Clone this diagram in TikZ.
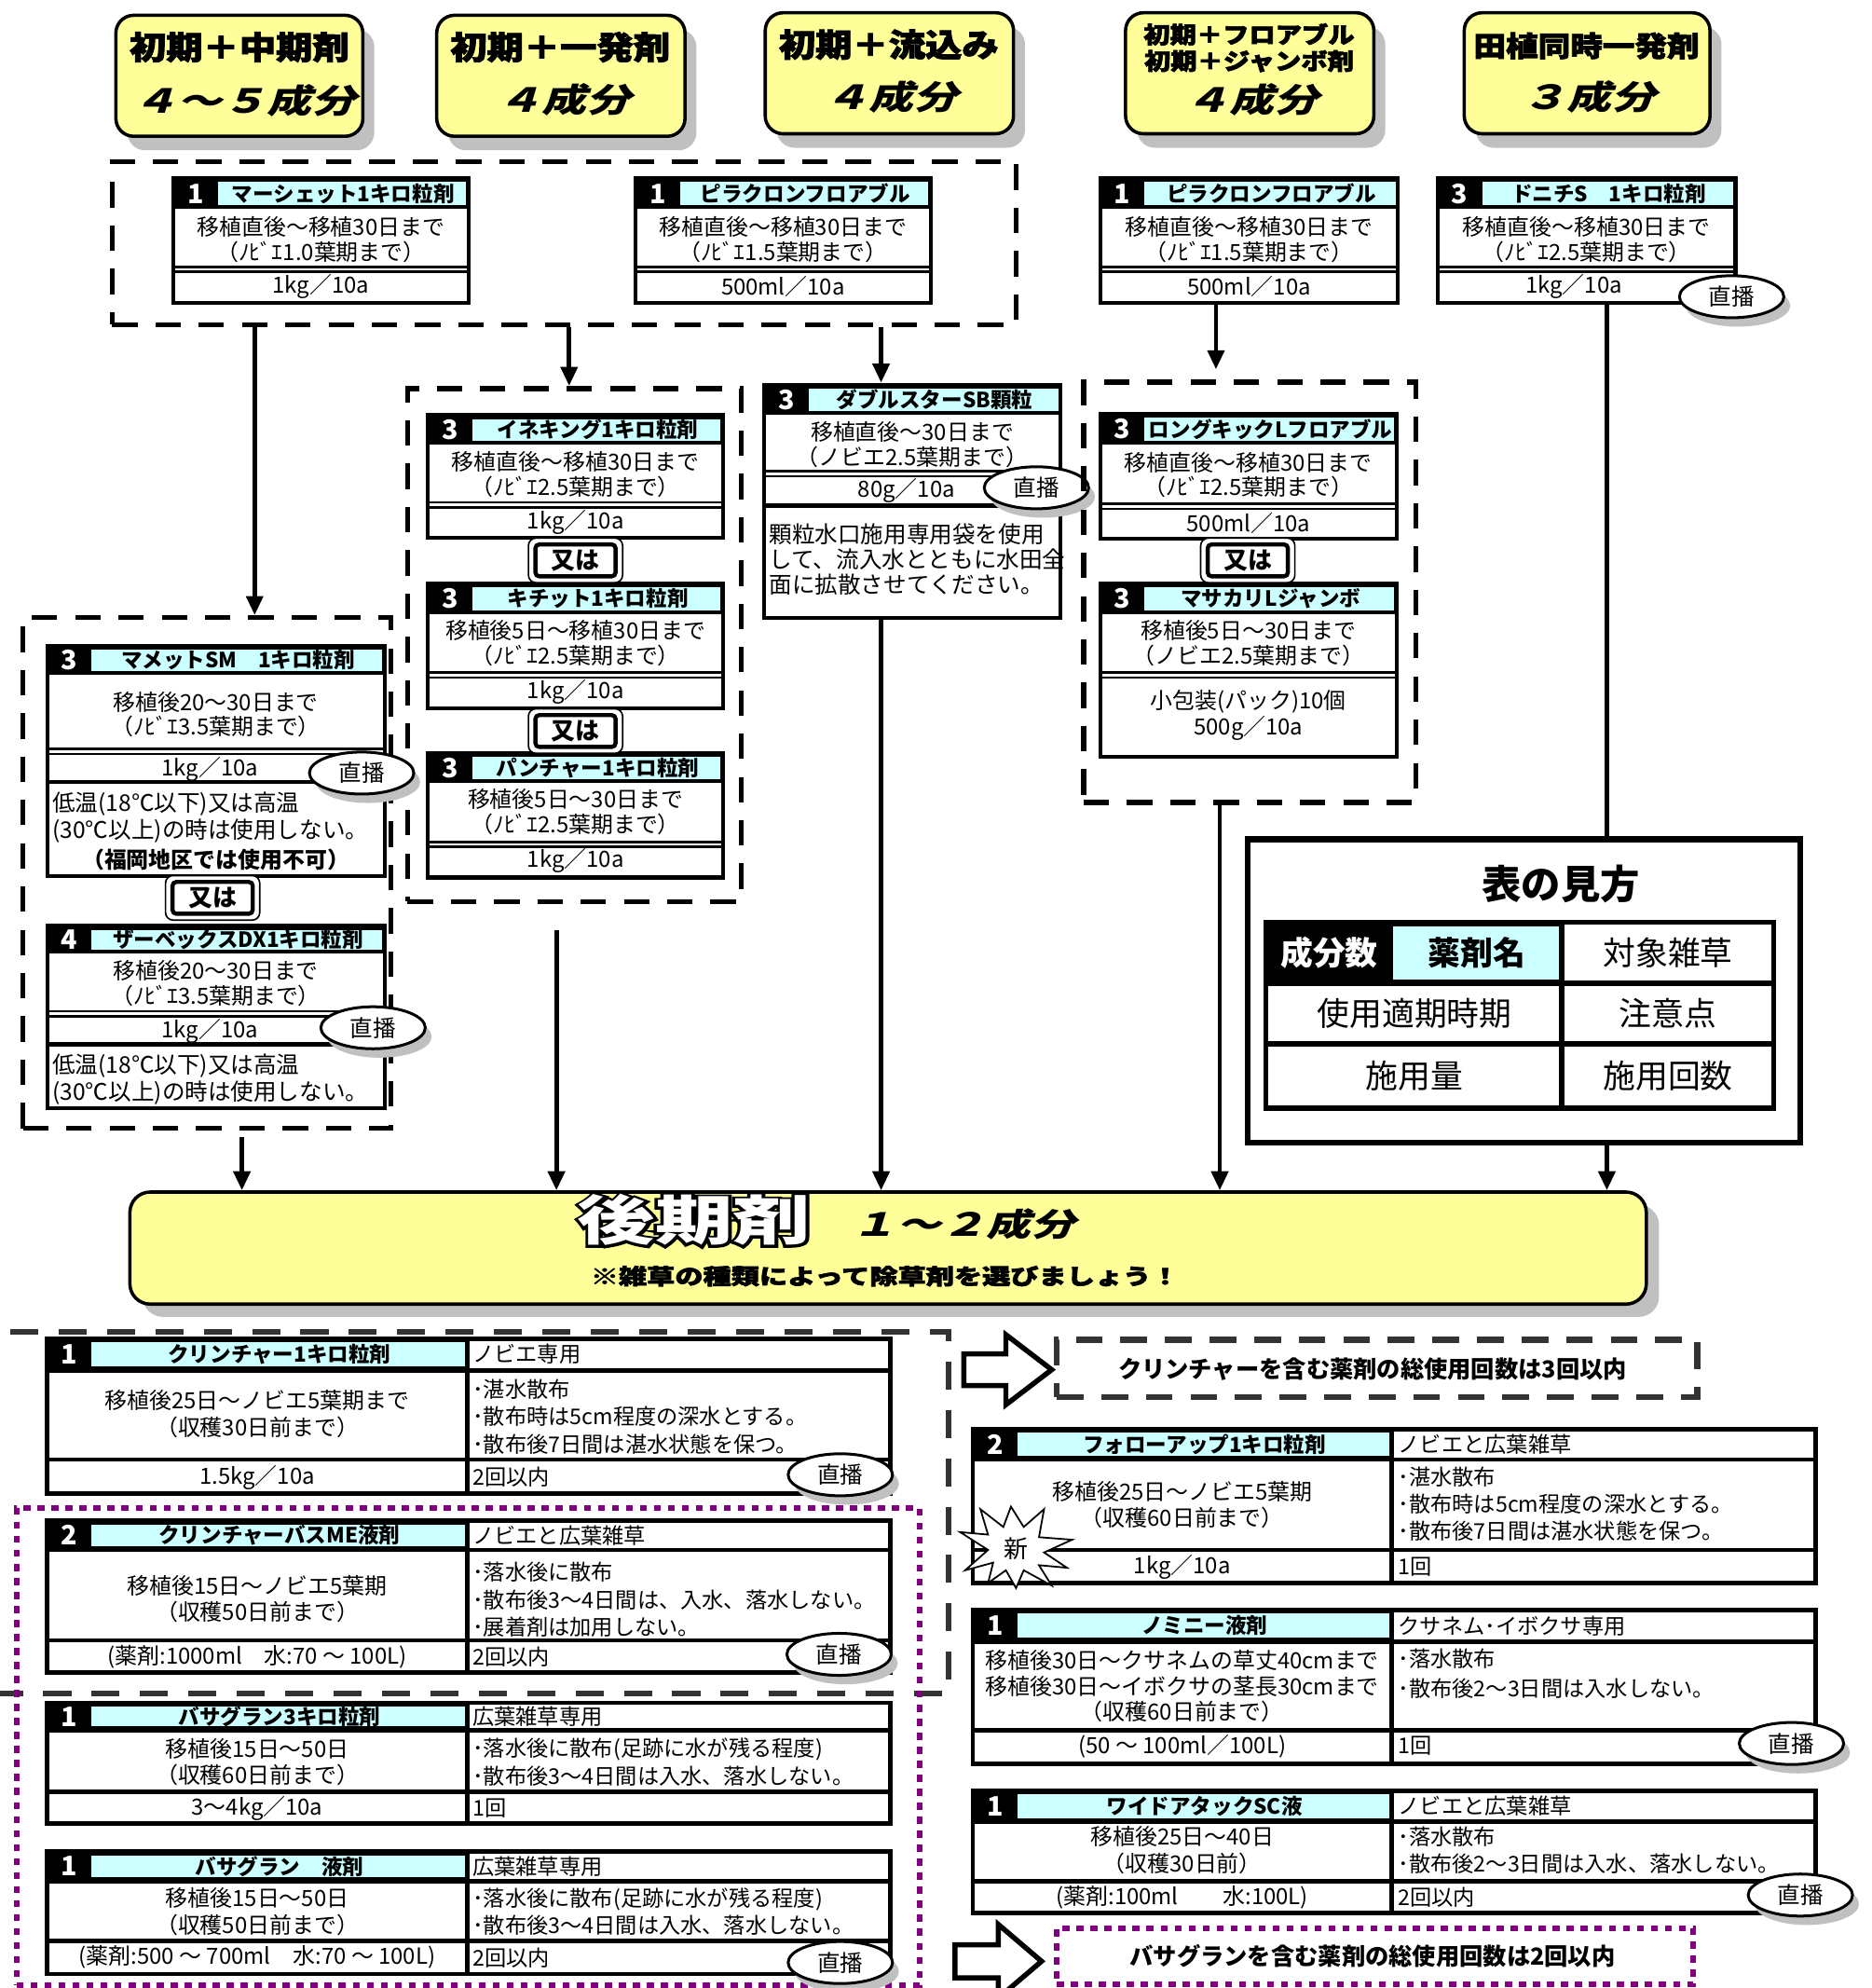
\documentclass[tikz,border=0pt]{standalone}
\usepackage{fontspec}
\setmainfont{Noto Sans CJK JP}
\newfontfamily\jpslant[FakeSlant=0.22]{Noto Sans CJK JP}
\newfontfamily\jpheavy[FakeBold=2.5]{Noto Sans CJK JP}
\newfontfamily\jpstroke[FakeBold=9]{Noto Sans CJK JP}
\usepackage{graphicx}
\usetikzlibrary{arrows.meta,calc,fit,shapes.geometric}
\definecolor{ylw}{HTML}{FFFF99}
\definecolor{cyn}{HTML}{CCFFFF}
\definecolor{shd}{HTML}{C0C0C0}
\definecolor{prp}{HTML}{800080}
\definecolor{dgr}{HTML}{333333}
\newcommand{\fsz}[1]{\fontsize{#1}{#1}\selectfont}
% yellow rounded box with shadow
\newcommand{\ybox}[5]{%
  \fill[shd,rounded corners=14pt] ({#2+9},{#3+11}) rectangle ({#4+9},{#5+11});
  \node[fit={(#2,#3) (#4,#5)},inner sep=0pt,draw,line width=2.6pt,fill=ylw,rounded corners=14pt] (#1) {};}
% heavy black title text: name,x,y,size,hscale,text
\newcommand{\htxt}[6]{\node[inner sep=0pt,font=\jpheavy\bfseries\fsz{#4}] (#1) at (#2,#3) {\scalebox{#5}[1]{#6}};}
% narrow card: name,x1,y1,x2,y2,header bottom,num,title
\newcommand{\ncard}[8]{%
  \fill[white] (#2,#3) rectangle (#4,#5);
  \fill[black] (#2,#3) rectangle (#4,#6);
  \fill[cyn] ({#2+35},{#3+3}) rectangle ({#4-2},{#6-3});
  \node[numt] at ({#2+17.5},{(#3+#6)/2}) {#7};
  \node[ttl] (#1t) at ({(#2+35+#4)/2},{(#3+#6)/2}) {#8};
  \node[fit={(#2,#3) (#4,#5)},inner sep=0pt,draw,line width=3pt] (#1) {};}
% wide card: name,x1,y1,x2,y2,header bottom,split,num,title
\newcommand{\wcard}[9]{%
  \fill[white] (#2,#3) rectangle (#4,#5);
  \fill[black] (#2,#3) rectangle (#7,#6);
  \fill[cyn] ({#2+35},{#3+3}) rectangle ({#7-2},{#6-3});
  \node[numt] at ({#2+17.5},{(#3+#6)/2}) {#8};
  \node[ttl] (#1t) at ({(#2+35+#7)/2},{(#3+#6)/2}) {#9};
  \draw[line width=3.5pt] (#7,#3) -- (#7,#5);
  \draw[line width=3.5pt] (#2,#6) -- (#4,#6);
  \node[fit={(#2,#3) (#4,#5)},inner sep=0pt,draw,line width=3.5pt] (#1) {};}
\newcommand{\dsep}[3]{\draw[line width=2pt] (#1,{#3-2}) -- (#2,{#3-2}) (#1,{#3+2}) -- (#2,{#3+2});}
\newcommand{\ssep}[4]{\draw[line width=#4] (#1,#3) -- (#2,#3);}
\newcommand{\chok}[3]{%
  \fill[shd] ({#2+5},{#3+7}) ellipse [x radius=41pt, y radius=16.5pt];
  \node[draw,ellipse,line width=2.2pt,fill=white,minimum width=82pt,minimum height=33pt,inner sep=0pt,font=\fsz{18}] (#1) at (#2,#3) {直播};}
\newcommand{\orbox}[3]{%
  \node[draw,line width=1.2pt,fill=white,rounded corners=6pt,minimum width=74pt,minimum height=35pt,inner sep=0pt] (#1) at (#2,#3) {};
  \node[draw,line width=3.2pt,rounded corners=3pt,minimum width=63pt,minimum height=25pt,inner sep=0pt,font=\bfseries\fsz{19}] (#1t) at (#2,#3) {又は};}
\begin{document}
\begin{tikzpicture}[x=1pt,y=-1pt,
  grp/.style={draw,line width=4pt,dash pattern=on 20pt off 14pt},
  arr/.style={line width=3.5pt,-{Triangle[length=15pt,width=13pt]}},
  ln/.style={line width=3.5pt},
  numt/.style={text=white,font=\bfseries\fsz{21},inner sep=0pt},
  ttl/.style={font=\bfseries\fsz{16.5},inner sep=0pt},
  bt/.style={font=\fontsize{17.5}{19.5}\selectfont,align=center,inner sep=0pt},
  bw/.style={font=\fontsize{17.5}{21}\selectfont,align=center,inner sep=0pt},
  bl/.style={font=\fontsize{17}{21.5}\selectfont,align=left,anchor=west,inner sep=0pt},
  nt/.style={font=\fontsize{18}{21.5}\selectfont,align=left,anchor=west,inner sep=0pt},
  sl/.style={font=\jpslant\bfseries\fsz{26},inner sep=0pt}]
\useasboundingbox (0,0) rectangle (1470,1561);
\fill[white] (0,0) rectangle (1470,1561);

% ---------- top boxes
\ybox{T1}{91}{12}{285}{107}
\htxt{T1a}{188}{37}{25}{1.15}{初期＋中期剤}
\node[sl] (T1b) at (192,79) {\scalebox{1.35}[1]{４～５成分}};
\ybox{T2}{343}{12}{538}{107}
\htxt{T2a}{440}{37}{25}{1.15}{初期＋一発剤}
\node[sl] (T2b) at (443,78) {\scalebox{1.35}[1]{４成分}};
\ybox{T3}{601}{10}{796}{105}
\htxt{T3a}{698}{35}{25}{1.15}{初期＋流込み}
\node[sl] (T3b) at (700,76) {\scalebox{1.35}[1]{４成分}};
\ybox{T4}{884}{10}{1079}{105}
\htxt{T4a}{981}{27}{18}{1.15}{初期＋フロアブル}
\htxt{T4c}{981}{48}{18}{1.15}{初期＋ジャンボ剤}
\node[sl] (T4b) at (983,78) {\scalebox{1.35}[1]{４成分}};
\ybox{T5}{1150}{10}{1343}{105}
\htxt{T5a}{1246}{36}{22}{1.15}{田植同時一発剤}
\node[sl] (T5b) at (1248,76) {\scalebox{1.35}[1]{３成分}};

% ---------- first row
\node[fit={(88,127) (798,255)},inner sep=0pt,grp] (D1) {};
\ncard{A}{136}{140}{368}{238}{164}{1}{マーシェット1キロ粒剤}
\dsep{136}{368}{211.5}
\node[bt] (Ab) at (252,188) {移植直後～移植30日まで\\（ﾉﾋﾞｴ1.0葉期まで）};
\node[bt] (Aa) at (252,225) {1kg／10a};
\ncard{B}{499}{140}{731}{238}{164}{1}{ピラクロンフロアブル}
\dsep{499}{731}{211.5}
\node[bt] (Bb) at (615,188) {移植直後～移植30日まで\\（ﾉﾋﾞｴ1.5葉期まで）};
\node[bt] (Ba) at (615,225) {500ml／10a};
\ncard{C}{864}{140}{1098}{238}{164}{1}{ピラクロンフロアブル}
\dsep{864}{1098}{211.5}
\node[bt] (Cb) at (981,188) {移植直後～移植30日まで\\（ﾉﾋﾞｴ1.5葉期まで）};
\node[bt] (Ca) at (981,225) {500ml／10a};
\ncard{D}{1129}{140}{1363}{238}{164}{3}{ドニチS　1キロ粒剤}
\dsep{1129}{1363}{211.5}
\node[bt] (Db) at (1246,188) {移植直後～移植30日まで\\（ﾉﾋﾞｴ2.5葉期まで）};
\node[bt] (Da) at (1236,225) {1kg／10a};
\chok{Dc}{1360}{233}

% ---------- group D3
\node[fit={(320,305) (582,708)},inner sep=0pt,grp] (D3) {};
\ncard{E}{336}{326}{568}{422}{349}{3}{イネキング1キロ粒剤}
\dsep{336}{568}{396.5}
\node[bt] (Eb) at (452,372.5) {移植直後～移植30日まで\\（ﾉﾋﾞｴ2.5葉期まで）};
\node[bt] (Ea) at (452,410) {1kg／10a};
\ncard{F}{336}{458}{568}{556}{482}{3}{キチット1キロ粒剤}
\dsep{336}{568}{530}
\node[bt] (Fb) at (452,505) {移植後5日～移植30日まで\\（ﾉﾋﾞｴ2.5葉期まで）};
\node[bt] (Fa) at (452,543) {1kg／10a};
\ncard{G}{336}{591}{568}{689}{615}{3}{パンチャー1キロ粒剤}
\dsep{336}{568}{663}
\node[bt] (Gb) at (452,637.5) {移植後5日～30日まで\\（ﾉﾋﾞｴ2.5葉期まで）};
\node[bt] (Ga) at (452,676) {1kg／10a};
\orbox{or1}{452}{440}
\orbox{or2}{452}{574}

% ---------- group D2
\node[fit={(18,485) (307,886)},inner sep=0pt,grp] (D2) {};
\ncard{H}{37}{507}{302}{688}{530}{3}{マメットSM　1キロ粒剤}
\dsep{37}{302}{590}
\ssep{37}{302}{614}{3pt}
\node[bt] (Hb) at (169.5,561) {移植後20～30日まで\\（ﾉﾋﾞｴ3.5葉期まで）};
\node[bt] (Ha) at (165,604) {1kg／10a};
\node[nt] (Hn) at (41,642) {低温(18℃以下)又は高温\\(30℃以上)の時は使用しない。};
\node[font=\bfseries\fsz{17.5},inner sep=0pt] (Hf) at (169.5,675) {（福岡地区では使用不可）};
\chok{Hc}{284}{607}
\ncard{I}{37}{727}{302}{870}{749}{4}{ザーベックスDX1キロ粒剤}
\dsep{37}{302}{796}
\ssep{37}{302}{820}{3pt}
\node[bt] (Ib) at (169.5,772) {移植後20～30日まで\\（ﾉﾋﾞｴ3.5葉期まで）};
\node[bt] (Ia) at (165,810) {1kg／10a};
\node[nt] (In) at (41,847.5) {低温(18℃以下)又は高温\\(30℃以上)の時は使用しない。};
\chok{Ic}{293}{807}
\orbox{or3}{167}{705}

% ---------- double star
\ncard{DS}{600}{302}{833}{485}{326}{3}{ダブルスターSB顆粒}
\dsep{600}{833}{372}
\ssep{600}{833}{397}{3pt}
\node[bt] (DSb) at (716.5,349) {移植直後～30日まで\\（ノビエ2.5葉期まで）};
\node[bt] (DSa) at (712,385.5) {80g／10a};
\node[font=\fontsize{18}{19.8}\selectfont,align=left,anchor=west,inner sep=0pt] (DSn) at (604,439) {顆粒水口施用専用袋を使用\\して、流入水とともに水田全\\面に拡散させてください。};
\chok{DSc}{814}{383}

% ---------- group D4
\node[fit={(851,300) (1112,630)},inner sep=0pt,grp] (D4) {};
\ncard{J}{864}{325}{1097}{423}{349}{3}{ロングキックLフロアブル}
\dsep{864}{1097}{397.5}
\node[bt] (Jb) at (980.5,373) {移植直後～移植30日まで\\（ﾉﾋﾞｴ2.5葉期まで）};
\node[bt] (Ja) at (980.5,411) {500ml／10a};
\ncard{K}{864}{458}{1097}{594}{482}{3}{マサカリLジャンボ}
\dsep{864}{1097}{530}
\node[bt] (Kb) at (980.5,505) {移植後5日～30日まで\\（ノビエ2.5葉期まで）};
\node[bw] (Ka) at (980.5,561.5) {小包装(パック)10個\\500g／10a};
\orbox{or4}{980}{440}

% ---------- legend
\node[fit={(980,659) (1414,897)},inner sep=0pt,draw,line width=4.5pt] (LG) {};
\node[font=\bfseries\fsz{31},inner sep=0pt] (LGt) at (1226,694) {表の見方};
\fill[black] (994,724) rectangle (1226.5,772);
\fill[cyn] (1094,727.5) rectangle (1224.5,769.5);
\node[fit={(994,724) (1393,870)},inner sep=0pt,draw,line width=4pt] (LGtab) {};
\draw[line width=4pt] (994,772) -- (1393,772) (994,819.5) -- (1393,819.5) (1226.5,724) -- (1226.5,870);
\node[font=\bfseries\fsz{25.5},text=white,inner sep=0pt] (L1) at (1044,748) {成分数};
\node[font=\bfseries\fsz{25.5},inner sep=0pt] (L2) at (1160,748) {薬剤名};
\node[font=\fsz{25.5},inner sep=0pt] (L3) at (1310,748) {対象雑草};
\node[font=\fsz{25.5},inner sep=0pt] (L4) at (1111,796) {使用適期時期};
\node[font=\fsz{25.5},inner sep=0pt] (L5) at (1310,796) {注意点};
\node[font=\fsz{25.5},inner sep=0pt] (L6) at (1111,845) {施用量};
\node[font=\fsz{25.5},inner sep=0pt] (L7) at (1310,845) {施用回数};

% ---------- late-stage box
\fill[shd,rounded corners=16pt] (112,946) rectangle (1303,1034);
\node[fit={(102,936) (1293,1024)},inner sep=0pt,draw,line width=2.6pt,fill=ylw,rounded corners=16pt] (KK) {};
\node[inner sep=0pt,text=black,font=\jpstroke\bfseries\fsz{42}] (KK1s) at (545,958) {\scalebox{1.45}[1]{後期剤}};
\node[inner sep=0pt,text=white,font=\bfseries\fsz{42}] (KK1) at (545,958) {\scalebox{1.45}[1]{後期剤}};
\node[font=\jpslant\bfseries\fsz{25},inner sep=0pt] (KK2) at (757,961) {\scalebox{1.4}[1]{１～２成分}};
\node[font=\jpheavy\bfseries\fsz{17},inner sep=0pt] (KK3) at (695,1002) {\scalebox{1.3}[1]{※雑草の種類によって除草剤を選びましょう！}};

% ---------- connectors
\coordinate (xa) at (200,0);
\coordinate (xb) at (447,0);
\coordinate (xc) at (692,0);
\coordinate (xd) at (955,0);
\coordinate (xe) at (1262,0);
\coordinate (d4in) at (955,290);
\coordinate (d2out) at (190,893);
\coordinate (d3out) at (437,730);
\coordinate (xf) at (190,0);
\coordinate (xg) at (437,0);
\coordinate (xh) at (958,0);
\draw[arr] (xa |- D1.south) -- (xa |- D2.north);
\draw[arr] (xb |- D1.south) -- (xb |- D3.north);
\draw[arr] (xc |- D1.south) -- (xc |- DS.north);
\draw[arr] (xd |- C.south) -- (d4in);
\draw[ln] (xe |- D.south) -- (xe |- LG.north);
\draw[arr] (xe |- LG.south) -- (xe |- KK.north);
\draw[arr] (d2out) -- (xf |- KK.north);
\draw[arr] (d3out) -- (xg |- KK.north);
\draw[arr] (xc |- DS.south) -- (xc |- KK.north);
\draw[arr] (xh |- D4.south) -- (xh |- KK.north);

% ---------- bottom left
\draw[dgr,line width=4.5pt,dash pattern=on 22pt off 16pt] (8,1046) -- (745,1046) -- (745,1330) -- (0,1330);
\node[fit={(13,1184) (722,1559)},inner sep=0pt,draw=prp,line width=4.5pt,dash pattern=on 5.5pt off 5.5pt] (P1) {};

\wcard{W1}{37}{1051}{699}{1173}{1076}{367}{1}{クリンチャー1キロ粒剤}
\ssep{37}{699}{1146}{3.5pt}
\node[bl] (W1h) at (371,1063.5) {ノビエ専用};
\node[bw] (W1b) at (202,1110.5) {移植後25日～ノビエ5葉期まで\\（収穫30日前まで）};
\node[bl] (W1r) at (371,1112.5) {･湛水散布\\･散布時は5cm程度の深水とする。\\･散布後7日間は湛水状態を保つ。};
\node[bw] (W1a) at (202,1160) {1.5kg／10a};
\node[bl] (W1n) at (371,1160) {2回以内};
\chok{W1c}{660}{1158}

\wcard{W2}{37}{1194}{699}{1313}{1217}{367}{2}{クリンチャーバスME液剤}
\ssep{37}{699}{1288}{3.5pt}
\node[bl] (W2h) at (371,1205.5) {ノビエと広葉雑草};
\node[bw] (W2b) at (202,1255.5) {移植後15日～ノビエ5葉期\\（収穫50日前まで）};
\node[bl] (W2r) at (371,1256) {･落水後に散布\\･散布後3～4日間は、入水、落水しない。\\･展着剤は加用しない。};
\node[bw] (W2a) at (202,1301) {(薬剤:1000ml　水:70 ～ 100L)};
\node[bl] (W2n) at (371,1301) {2回以内};
\chok{W2c}{659}{1299}

\wcard{W3}{37}{1337}{699}{1432}{1358.5}{367}{1}{バサグラン3キロ粒剤}
\ssep{37}{699}{1407}{3.5pt}
\node[bl] (W3h) at (371,1348) {広葉雑草専用};
\node[bw] (W3b) at (202,1383.5) {移植後15日～50日\\（収穫60日前まで）};
\node[bl] (W3r) at (371,1383.5) {･落水後に散布(足跡に水が残る程度)\\･散布後3～4日間は入水、落水しない。};
\node[bw] (W3a) at (202,1420) {3～4kg／10a};
\node[bl] (W3n) at (371,1420) {1回};

\wcard{W4}{37}{1454}{699}{1550}{1477}{367}{1}{バサグラン　液剤}
\ssep{37}{699}{1524}{3.5pt}
\node[bl] (W4h) at (371,1465.5) {広葉雑草専用};
\node[bw] (W4b) at (202,1501) {移植後15日～50日\\（収穫50日前まで）};
\node[bl] (W4r) at (371,1501) {･落水後に散布(足跡に水が残る程度)\\･散布後3～4日間は入水、落水しない。};
\node[bw] (W4a) at (202,1537) {(薬剤:500 ～ 700ml　水:70 ～ 100L)};
\node[bl] (W4n) at (371,1537) {2回以内};
\chok{W4c}{660}{1541}

% ---------- right bottom
\draw[line width=4pt,fill=white,line join=miter] (757,1063) -- (790,1063) -- (790,1048) -- (826,1075.5) -- (790,1103) -- (790,1088) -- (757,1088) -- cycle;
\node[fit={(830,1052) (1333,1097)},inner sep=0pt,draw=dgr,line width=4.5pt,dash pattern=on 21pt off 14pt] (GB) {};
\node[font=\bfseries\fsz{18.5},inner sep=0pt] (GBt) at (1078,1075) {クリンチャーを含む薬剤の総使用回数は3回以内};

\wcard{W5}{764}{1122}{1426}{1243}{1146}{1093}{2}{フォローアップ1キロ粒剤}
\ssep{764}{1426}{1217}{3.5pt}
\node[bl] (W5h) at (1098,1134) {ノビエと広葉雑草};
\node[bw] (W5b) at (928.5,1181.5) {移植後25日～ノビエ5葉期\\（収穫60日前まで）};
\node[bl] (W5r) at (1098,1181) {･湛水散布\\･散布時は5cm程度の深水とする。\\･散布後7日間は湛水状態を保つ。};
\node[bw] (W5a) at (928.5,1230.5) {1kg／10a};
\node[bl] (W5n) at (1098,1230.5) {1回};
\draw[line width=1.3pt,fill=white,line join=miter] (754,1203) -- (776,1205) -- (770,1185) -- (788,1199) -- (794,1183) -- (804,1199) -- (820,1185) -- (816,1207) -- (842,1209) -- (820,1219) -- (838,1231) -- (816,1229) -- (826,1245) -- (804,1233) -- (798,1247) -- (790,1233) -- (776,1243) -- (780,1227) -- (758,1233) -- (776,1217) -- cycle;
\node[font=\fsz{19},inner sep=0pt] (shin) at (798,1216) {新};

\wcard{W6}{764}{1264}{1426}{1385}{1289}{1093}{1}{ノミニー液剤}
\ssep{764}{1426}{1358.5}{3.5pt}
\node[bl] (W6h) at (1098,1276.5) {クサネム･イボクサ専用};
\node[font=\fontsize{17.5}{20}\selectfont,align=center,inner sep=0pt] (W6b) at (928.5,1324) {移植後30日～クサネムの草丈40cmまで\\移植後30日～イボクサの茎長30cmまで\\（収穫60日前まで）};
\node[font=\fontsize{17}{23}\selectfont,align=left,anchor=west,inner sep=0pt] (W6r) at (1098,1314) {･落水散布\\･散布後2～3日間は入水しない。};
\node[bw] (W6a) at (928.5,1371) {(50 ～ 100ml／100L)};
\node[bl] (W6n) at (1098,1371) {1回};
\chok{W6c}{1407}{1369}

\wcard{W7}{764}{1406}{1426}{1502}{1430.5}{1093}{1}{ワイドアタックSC液}
\ssep{764}{1426}{1477}{3.5pt}
\node[bl] (W7h) at (1098,1418) {ノビエと広葉雑草};
\node[bw] (W7b) at (928.5,1453) {移植後25日～40日\\（収穫30日前）};
\node[bl] (W7r) at (1098,1453) {･落水散布\\･散布後2～3日間は入水、落水しない。};
\node[bw] (W7a) at (928.5,1490) {(薬剤:100ml　　水:100L)};
\node[bl] (W7n) at (1098,1490) {2回以内};
\chok{W7c}{1414}{1488}

\draw[line width=4pt,fill=white,line join=miter] (750,1527) -- (784,1527) -- (784,1511) -- (818,1540) -- (784,1569) -- (784,1553) -- (750,1553) -- cycle;
\node[fit={(830,1514) (1330,1558)},inner sep=0pt,draw=prp,line width=4.5pt,dash pattern=on 5.5pt off 5.5pt] (P2) {};
\node[font=\bfseries\fsz{18.5},inner sep=0pt] (P2t) at (1078,1536) {バサグランを含む薬剤の総使用回数は2回以内};
\end{tikzpicture}
\end{document}
